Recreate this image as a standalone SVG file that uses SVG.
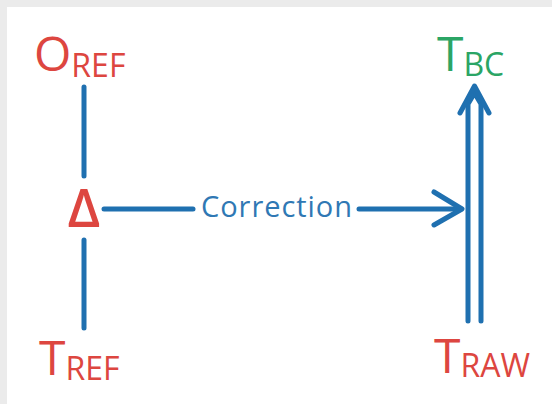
<svg xmlns="http://www.w3.org/2000/svg" width="552" height="404" viewBox="0 0 552 404">
<style>
.big{font-family:"Open Sans","DejaVu Sans",sans-serif;font-size:48px}
.sm{font-family:"Open Sans","DejaVu Sans",sans-serif;font-size:32px}
.red{fill:#dd4640}
.green{fill:#2ba565}
.ln{stroke:#1f70b0;stroke-width:5;fill:none;stroke-linecap:round;stroke-linejoin:round}
</style>
<rect width="552" height="404" fill="#ebebeb"/>
<rect x="7" y="7" width="545" height="397" fill="#ffffff"/>
<g id="connectors">
<path class="ln" d="M84,87 V176"/>
<path class="ln" d="M84,240 V328"/>
<path class="ln" d="M104,209 H193"/>
<path class="ln" d="M359,209 H461"/>
<path class="ln" d="M434,192 L462,209 L434,225"/>
<path class="ln" d="M468,321 V104 L474.5,93 L481,104 V321"/>
<path class="ln" d="M460,113 L474.5,86 L489,113"/>
</g>
<g id="oref"><text class="red" x="34" y="71"><tspan class="big">O</tspan><tspan class="sm" y="77">REF</tspan></text></g>
<g id="delta"><text class="red" x="84" y="227" text-anchor="middle" style="font-family:'Open Sans','DejaVu Sans',sans-serif;font-size:53px;font-weight:600">Δ</text></g>
<g id="tref"><text class="red" x="39" y="375"><tspan class="big">T</tspan><tspan class="sm" y="380">REF</tspan></text></g>
<g id="tbc"><text class="green" x="437" y="71"><tspan class="big">T</tspan><tspan class="sm" y="76">BC</tspan></text></g>
<g id="traw"><text class="red" x="434" y="373"><tspan class="big">T</tspan><tspan class="sm" y="377">RAW</tspan></text></g>
<g id="correction"><text x="201" y="217" style="font-family:'Open Sans','DejaVu Sans',sans-serif;font-size:29px;fill:#2f78b4" textLength="151">Correction</text></g>
</svg>
